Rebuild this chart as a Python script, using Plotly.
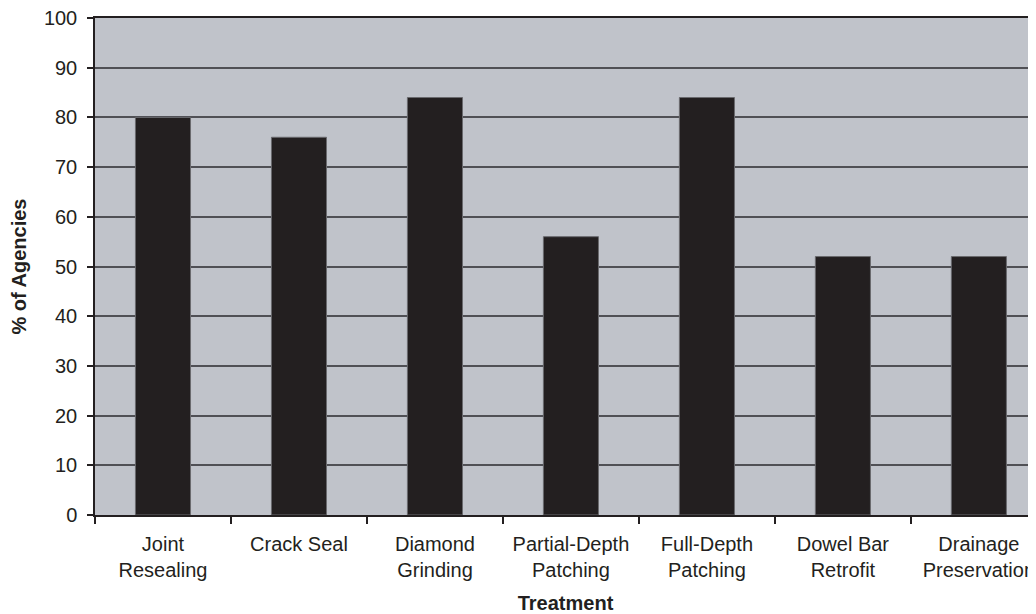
import plotly.graph_objects as go

categories = ["Joint<br>Resealing", "Crack Seal", "Diamond<br>Grinding", "Partial-Depth<br>Patching",
              "Full-Depth<br>Patching", "Dowel Bar<br>Retrofit", "Drainage<br>Preservation"]
values = [80, 76, 84, 56, 84, 52, 52]
y_ticks = [0, 10, 20, 30, 40, 50, 60, 70, 80, 90, 100]

FONT = "Liberation Sans, Arial, sans-serif"

fig = go.Figure()
fig.add_trace(go.Bar(
    x=list(range(len(categories))), y=values,
    width=0.405,
    marker=dict(color="#231f20", line=dict(color="#6a6a6e", width=1)),
))

# page body has an 8px default margin, so the figure is sized to fit the window
fig.update_layout(
    width=1028, height=606,
    margin=dict(l=87, r=0, t=10, b=99),
    paper_bgcolor="white",
    plot_bgcolor="#c0c3ca",
    showlegend=False,
    font=dict(family=FONT, size=20, color="#231f20"),
)
fig.update_xaxes(
    tickmode="array",
    tickvals=list(range(len(categories))),
    ticktext=categories,
    range=[-0.5, 6.42],
    automargin=False,
    showgrid=False,
    showline=True, linecolor="#231f20", linewidth=1.5, mirror=True,
    ticks="",
    ticklabelstandoff=10,
    ticklabeloverflow="allow",
    tickfont=dict(size=20),
    title=dict(text="<b>Treatment</b>", font=dict(size=20), standoff=17),
    zeroline=False,
    minor=dict(tickvals=[i - 0.5 for i in range(len(categories) + 1)],
               ticks="outside", ticklen=7, tickcolor="#231f20", tickwidth=1.5),
)
fig.update_yaxes(
    range=[0, 100],
    tickmode="array", tickvals=y_ticks,
    automargin=False,
    showgrid=True, gridcolor="#505055", gridwidth=1.5,
    showline=True, linecolor="#231f20", linewidth=1.5,
    ticks="outside", ticklen=6, tickcolor="#231f20", tickwidth=1.5,
    ticklabelstandoff=6,
    ticklabeloverflow="allow",
    tickfont=dict(size=20),
    title=dict(text="<b>% of Agencies</b>", font=dict(size=20), standoff=14),
    zeroline=False,
)

fig.write_html("out.html")
